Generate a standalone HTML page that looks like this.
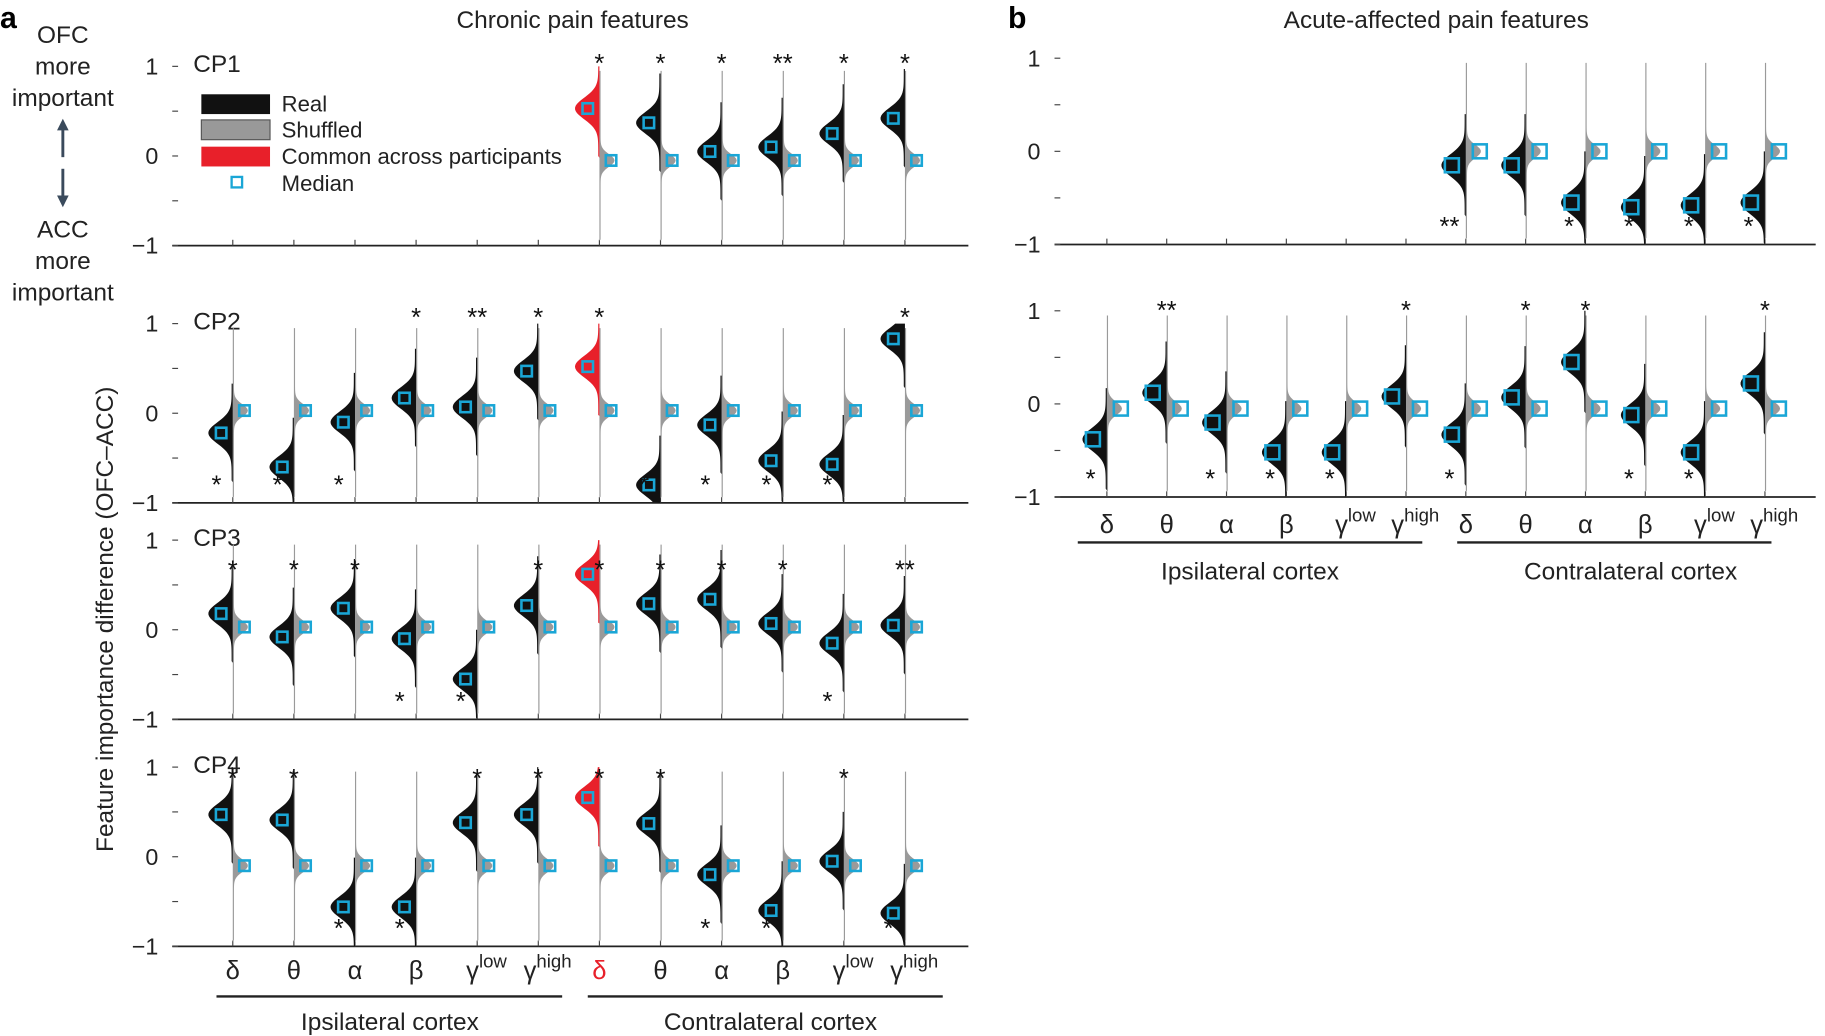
<!DOCTYPE html>
<html><head><meta charset="utf-8"><style>
html,body{margin:0;padding:0;background:#fff;}
svg{display:block;font-family:"Liberation Sans",sans-serif;}
</style></head><body>
<svg id="fig" width="1825" height="1036" viewBox="0 0 1568 890" preserveAspectRatio="none" xmlns="http://www.w3.org/2000/svg">
<g id="static">
<text x="0" y="24" font-size="26" font-weight="bold">a</text>
<text x="866" y="24" font-size="26" font-weight="bold">b</text>
<text x="492" y="24" font-size="21" text-anchor="middle" fill="#222">Chronic pain features</text>
<text x="1234" y="24" font-size="21" text-anchor="middle" fill="#222">Acute-affected pain features</text>
<g font-size="21" text-anchor="middle" fill="#222">
<text x="54" y="37">OFC</text><text x="54" y="64">more</text><text x="54" y="91">important</text>
<text x="54" y="204">ACC</text><text x="54" y="231">more</text><text x="54" y="258">important</text>
</g>
<g stroke="#3a4a5c" stroke-width="2.5" fill="#3a4a5c">
<line x1="54" y1="108" x2="54" y2="135"/><line x1="54" y1="145" x2="54" y2="172"/>
<polygon points="54,102 49,112 59,112" stroke="none"/><polygon points="54,178 49,168 59,168" stroke="none"/>
</g>
<text transform="translate(97,532) rotate(-90)" font-size="21" text-anchor="middle" fill="#222">Feature importance difference (OFC–ACC)</text>
<g font-size="19" fill="#222">
<rect x="173" y="81" width="59" height="17" fill="#111"/><text x="242" y="96">Real</text>
<rect x="173" y="103" width="59" height="17" fill="#999" stroke="#555"/><text x="242" y="118">Shuffled</text>
<rect x="173" y="126" width="59" height="17" fill="#e8202a"/><text x="242" y="141">Common across participants</text>
<rect x="199" y="152" width="9" height="9" fill="none" stroke="#1aa6d6" stroke-width="2"/><text x="242" y="164">Median</text>
</g>
<g stroke="#222" stroke-width="2">
<line x1="186" y1="856" x2="483" y2="856"/><line x1="505" y1="856" x2="810" y2="856"/>
<line x1="926" y1="466" x2="1222" y2="466"/><line x1="1252" y1="466" x2="1522" y2="466"/>
</g>
<g font-size="21" text-anchor="middle" fill="#222">
<text x="335" y="885">Ipsilateral cortex</text><text x="662" y="885">Contralateral cortex</text>
<text x="1074" y="498">Ipsilateral cortex</text><text x="1401" y="498">Contralateral cortex</text>
</g>
</g>
<g id="plots"></g>
</svg>
<script>
// ---- data ----
const categories = ['δ','θ','α','β','γlow','γhigh','δ','θ','α','β','γlow','γhigh'];
const cp1Real = [null,null,null,null,null,null,0.53,0.37,0.05,0.10,0.25,0.42];
const cp1Shuf = [null,null,null,null,null,null,-0.05,-0.05,-0.05,-0.05,-0.05,-0.05];
const cp1Stars = ['','','','','','','*t','*t','*t','**t','*t','*t'];
const cp2Real = [-0.22,-0.60,-0.10,0.17,0.07,0.47,0.52,-0.80,-0.13,-0.53,-0.57,0.83];
const cp2Shuf = [0.03,0.03,0.03,0.03,0.03,0.03,0.03,0.03,0.03,0.03,0.03,0.03];
const cp2Stars = ['*b','*b','*b','*t','**t','*t','*t','*b','*b','*b','*b','*t'];
const cp3Real = [0.18,-0.08,0.24,-0.10,-0.55,0.27,0.62,0.29,0.34,0.07,-0.15,0.05];
const cp3Shuf = [0.03,0.03,0.03,0.03,0.03,0.03,0.03,0.03,0.03,0.03,0.03,0.03];
const cp3Stars = ['*t','*t','*t','*b','*b','*t','*t','*t','*t','*t','*b','**t'];
const cp4Real = [0.47,0.41,-0.56,-0.56,0.38,0.47,0.66,0.37,-0.20,-0.60,-0.05,-0.63];
const cp4Shuf = [-0.10,-0.10,-0.10,-0.10,-0.10,-0.10,-0.10,-0.10,-0.10,-0.10,-0.10,-0.10];
const cp4Stars = ['*t','*t','*b','*b','*t','*t','*t','*t','*b','*b','*t','*b'];
const bTopReal = [null,null,null,null,null,null,-0.15,-0.15,-0.55,-0.60,-0.58,-0.55];
const bTopShuf = [null,null,null,null,null,null,0.0,0.0,0.0,0.0,0.0,0.0];
const bTopStars = ['','','','','','','**b','','*b','*b','*b','*b'];
const bBotReal = [-0.38,0.12,-0.20,-0.52,-0.52,0.08,-0.33,0.07,0.45,-0.12,-0.52,0.22];
const bBotShuf = [-0.05,-0.05,-0.05,-0.05,-0.05,-0.05,-0.05,-0.05,-0.05,-0.05,-0.05,-0.05];
const bBotStars = ['*b','**t','*b','*b','*b','*t','*b','*t','*t','*b','*b','*t'];
const commonIndex = 6;
const yTicks = [-1,0,1];

const NS='http://www.w3.org/2000/svg';
const root=document.getElementById('plots');
function mk(tag,attrs,parent){const e=document.createElementNS(NS,tag);for(const k in attrs)e.setAttribute(k,attrs[k]);(parent||root).appendChild(e);return e;}

function panel(cfg){
  const g=mk('g',{});
  
  
  const y=v=>cfg.y0 - v*cfg.unit;
  const x=i=>cfg.xs + i*cfg.dx;
  const ax=mk('line',{x1:cfg.xl,x2:cfg.xr,y1:y(-1),y2:y(-1),stroke:'#222','stroke-width':1.5},g);
  
  
  for(const t of [-1,-0.5,0,0.5,1]){mk('line',{x1:cfg.xl,x2:cfg.xl+5,y1:y(t),y2:y(t),stroke:'#444','stroke-width':1},g);}
  for(const t of yTicks){
    const tx=mk('text',{x:cfg.xl-12,y:y(t)+7,'font-size':20,'text-anchor':'end',fill:'#222'},g);
    tx.textContent=(t<0?'−':'')+Math.abs(t);
    
    
  }
  for(let i=0;i<12;i++) mk('line',{x1:x(i),x2:x(i),y1:y(-1),y2:y(-1)-5,stroke:'#444'},g);
  if(cfg.label){const l=mk('text',{x:cfg.xl+18,y:y(1)+5,'font-size':21,fill:'#222'},g);l.textContent=cfg.label;
    }
  for(let i=0;i<12;i++){
    const cx=x(i);
    if(cfg.shuf[i]!==null){
      let d='M'+cx+','+y(0.95);
      for(let v=0.95;v>=-0.95;v-=0.02){const w=1+cfg.ws*Math.exp(-Math.pow((v-cfg.shuf[i])/0.07,2)/2);d+=' L'+(cx+w)+','+y(v);}
      d+=' L'+cx+','+y(-0.95)+'Z';
      const p=mk('path',{d:d,fill:'#9a9a9a'},g);
      
      
      const s=mk('rect',{x:cx+cfg.dm-cfg.ms/2,y:y(cfg.shuf[i])-cfg.ms/2,width:cfg.ms,height:cfg.ms,fill:'none',stroke:'#1aa6d6','stroke-width':2.2},g);
      
      
    }
    if(cfg.real[i]!==null){
      const m=cfg.real[i];const red=(i===commonIndex&&cfg.red);
      let d='M'+cx+','+y(Math.min(1,m+0.55));
      for(let v=Math.min(1,m+0.55);v>=Math.max(-1,m-0.55);v-=0.02){const w=1+cfg.wr*Math.exp(-Math.pow((v-m)/0.12,2)/2);d+=' L'+(cx-w)+','+y(v);}
      d+=' L'+cx+','+y(Math.max(-1,m-0.55))+'Z';
      const p=mk('path',{d:d,fill:red?'#e8202a':'#111'},g);
      
      
      const s=mk('rect',{x:cx-cfg.dm-cfg.ms/2,y:y(m)-cfg.ms/2,width:cfg.ms,height:cfg.ms,fill:'none',stroke:'#1aa6d6','stroke-width':2.2},g);
      
      
    }
    const st=cfg.stars[i];
    if(st){const top=st.endsWith('t');const txt=st.slice(0,-1);
      const t=mk('text',{x:top?cx:cx-14,y:top?y(1)+cfg.so+12:y(-1)-8,'font-size':22,'text-anchor':'middle',fill:'#111'},g);
      t.textContent=txt;
      
      }
  }
  if(cfg.xlabels){
    for(let i=0;i<12;i++){
      const c=categories[i];const t=mk('text',{x:x(i),y:cfg.xly,'font-size':22,'text-anchor':'middle',fill:(i===commonIndex&&cfg.red)?'#e8202a':'#222'},g);
      if(c.startsWith('γ')){t.textContent='γ';const sp=mk('tspan',{dy:-10,'font-size':16},t);sp.textContent=c.slice(1);t.setAttribute('x',x(i)+8);}
      else t.textContent=c;
      
      
    }
  }
}
const A={xl:148,xr:832,xs:200,dx:52.5,unit:77,wr:20,ws:12,dm:10,ms:9,red:true};
panel(Object.assign({},A,{name:'cp1-plot',label:'CP1',y0:134,so:-7,real:cp1Real,shuf:cp1Shuf,stars:cp1Stars}));
panel(Object.assign({},A,{name:'cp2-plot',label:'CP2',y0:355,so:-10,real:cp2Real,shuf:cp2Shuf,stars:cp2Stars}));
panel(Object.assign({},A,{name:'cp3-plot',label:'CP3',y0:541,so:21,real:cp3Real,shuf:cp3Shuf,stars:cp3Stars}));
panel(Object.assign({},A,{name:'cp4-plot',label:'CP4',y0:736,so:5,real:cp4Real,shuf:cp4Shuf,stars:cp4Stars,xlabels:true,xly:841}));
const B={xl:906,xr:1560,xs:951,dx:51.4,unit:80,wr:20,ws:12,dm:12,ms:12,red:false};
panel(Object.assign({},B,{name:'acute-top-plot',y0:130,so:0,real:bTopReal,shuf:bTopShuf,stars:bTopStars}));
panel(Object.assign({},B,{name:'acute-bottom-plot',y0:347,so:-5,real:bBotReal,shuf:bBotShuf,stars:bBotStars,xlabels:true,xly:458}));
</script>
</body></html>
